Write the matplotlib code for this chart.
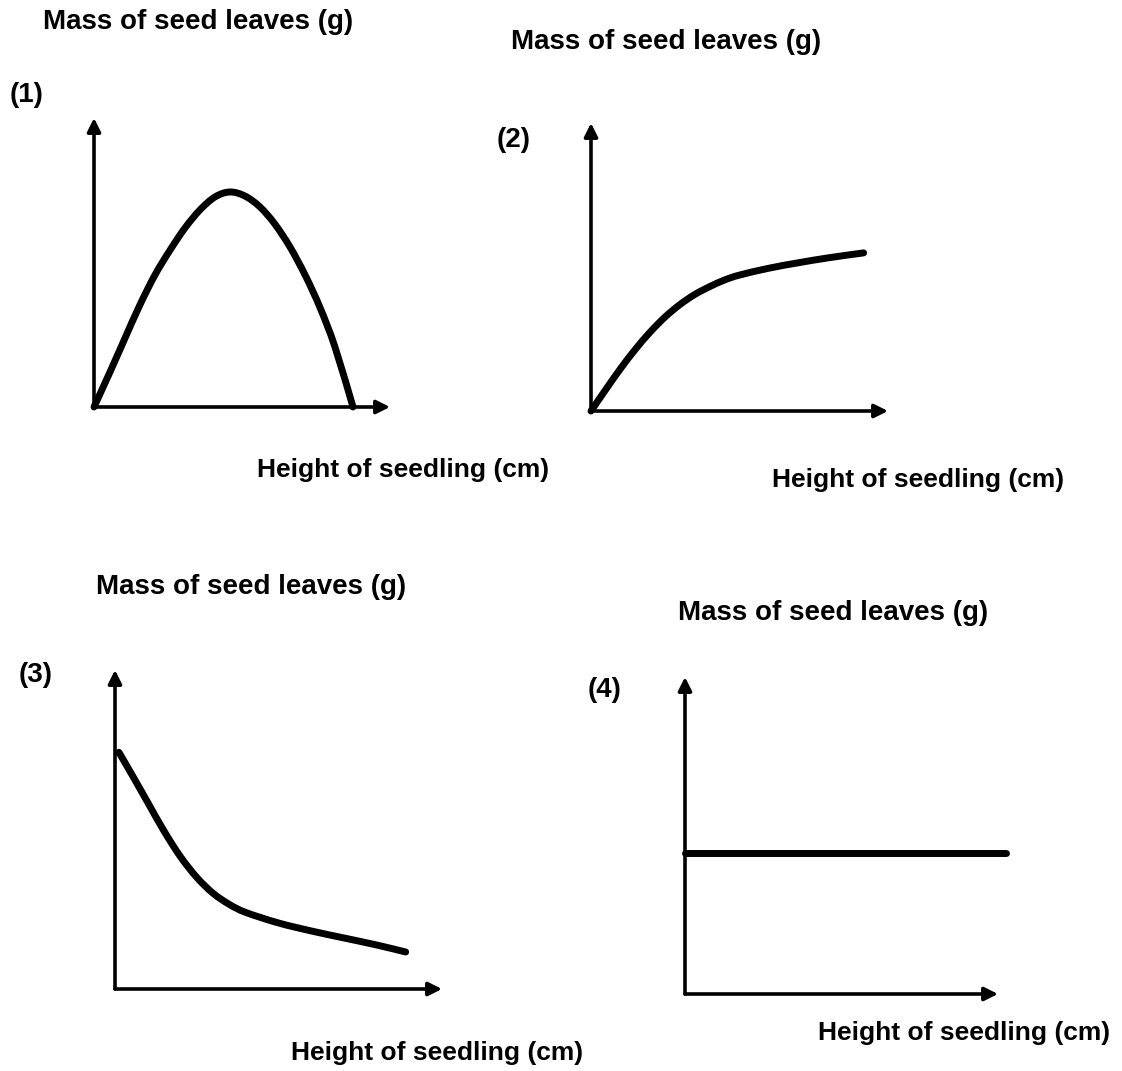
import matplotlib.pyplot as plt
from matplotlib.path import Path
from matplotlib.patches import PathPatch

W, H = 1122, 1071

# arbitrary units 0..10 on each axis
p1_height = [0, 0.54, 1.05, 1.55, 2.06, 2.57, 3.07, 3.58, 4.09, 4.59, 5.10, 5.61, 6.11, 6.62, 7.13, 7.64, 8.14, 8.75]
p1_mass = [0, 1.21, 2.39, 3.53, 4.57, 5.43, 6.19, 6.82, 7.27, 7.44, 7.30, 6.92, 6.33, 5.54, 4.57, 3.43, 2.08, 0]

p2_height = [0, 0.5, 1.0, 1.5, 2.0, 2.5, 3.0, 3.5, 4.0, 4.5, 5.0, 6.0, 7.0, 8.0, 9.18]
p2_mass = [0, 0.75, 1.48, 2.15, 2.75, 3.27, 3.70, 4.05, 4.32, 4.55, 4.72, 4.96, 5.15, 5.32, 5.49]

p3_height = [0.12, 0.5, 1.0, 1.5, 2.0, 2.5, 3.0, 3.5, 4.0, 5.0, 6.0, 7.0, 8.0, 8.89]
p3_mass = [7.42, 6.75, 5.85, 4.95, 4.15, 3.50, 3.00, 2.65, 2.40, 2.07, 1.82, 1.60, 1.38, 1.16]

p4_height = [0, 10.25]
p4_mass = [4.45, 4.45]

panel_tags = ["(1)", "(2)", "(3)", "(4)"]
y_label = "Mass of seed leaves (g)"
x_label = "Height of seedling (cm)"

# pixel layout of each panel: y-axis x, origin y, arrow tip x, arrow tip y
boxes = [(94, 407, 390, 118), (591, 411, 888, 123), (115, 989, 442, 670), (685, 994, 998, 677)]
ylab_pos = [(43, 22), (511, 42), (96, 587), (678, 613)]
xlab_pos = [(257, 470), (772, 480), (291, 1053), (818, 1033)]
tag_pos = [(10, 95), (497, 140), (19, 675), (588, 690)]

font = ['Liberation Sans', 'DejaVu Sans']


def smooth_path(xs, ys):
    # catmull-rom through the read points, drawn as cubic bezier pieces
    pts = list(zip(xs, ys))
    if len(pts) < 3:
        return Path(pts)
    verts = [pts[0]]
    codes = [Path.MOVETO]
    for i in range(len(pts) - 1):
        p0 = pts[i - 1] if i > 0 else pts[i]
        p1 = pts[i]
        p2 = pts[i + 1]
        p3 = pts[i + 2] if i + 2 < len(pts) else pts[i + 1]
        c1 = (p1[0] + (p2[0] - p0[0]) / 6, p1[1] + (p2[1] - p0[1]) / 6)
        c2 = (p2[0] - (p3[0] - p1[0]) / 6, p2[1] - (p3[1] - p1[1]) / 6)
        verts += [c1, c2, p2]
        codes += [Path.CURVE4] * 3
    return Path(verts, codes)


fig = plt.figure(figsize=(W / 100, H / 100), dpi=100)
fig.patch.set_facecolor('white')

series = [(p1_height, p1_mass), (p2_height, p2_mass), (p3_height, p3_mass), (p4_height, p4_mass)]

for ix, (xs, ys) in enumerate(series):
    x0, y0, x1, y1 = boxes[ix]
    ax = fig.add_axes([x0 / W, 1 - y0 / H, (x1 - x0) / W, (y0 - y1) / H])
    ax.set_xlim(0, 10)
    ax.set_ylim(0, 10)
    ax.set_axis_off()
    for tip in [(1, 0), (0, 1)]:
        ax.annotate('', xy=tip, xytext=(0, 0), xycoords='axes fraction',
                    arrowprops=dict(arrowstyle='-|>', color='black', lw=2.6, mutation_scale=20,
                                    shrinkA=0, shrinkB=0))
    ax.add_patch(PathPatch(smooth_path(xs, ys), facecolor='none', edgecolor='black', lw=5,
                           capstyle='round', joinstyle='round', clip_on=False))

    fig.text(ylab_pos[ix][0] / W, 1 - ylab_pos[ix][1] / H, y_label, family=font, weight='bold',
             fontsize=20, ha='left', va='center')
    fig.text(xlab_pos[ix][0] / W, 1 - xlab_pos[ix][1] / H, x_label, family=font, weight='bold',
             fontsize=19, ha='left', va='center')
    fig.text(tag_pos[ix][0] / W, 1 - tag_pos[ix][1] / H, panel_tags[ix], family=font, weight='bold',
             fontsize=20, ha='left', va='center')

fig.savefig('out.png', dpi=100)
